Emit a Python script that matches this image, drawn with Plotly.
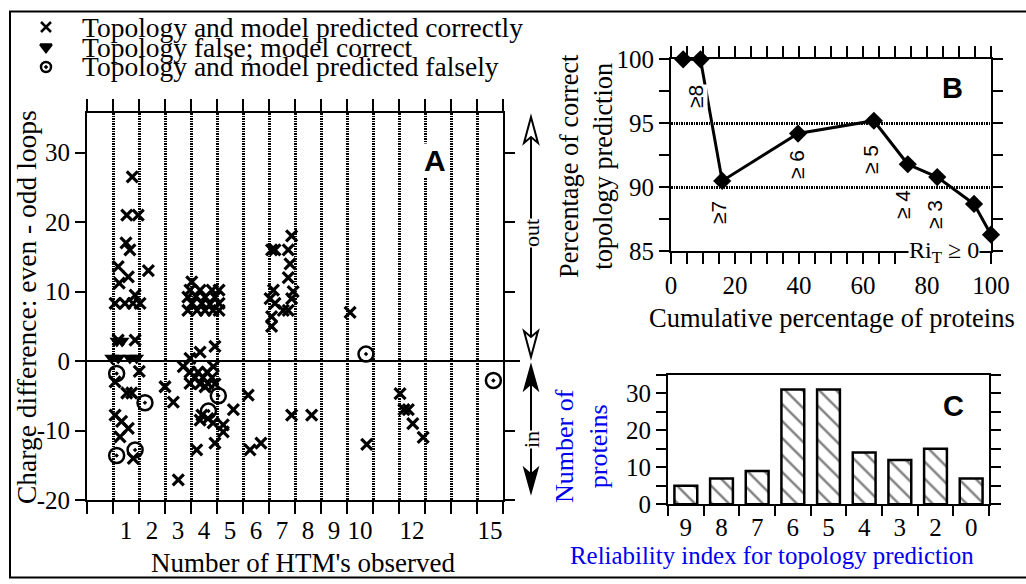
import plotly.graph_objects as go

W, H = 1026, 584
SERIF = "Liberation Serif"
SANS = "Liberation Sans"

# ---------------- data: panel A ----------------
correct_x = [1.24, 1.03, 1.47, 1.00, 1.15, 0.70, 1.86, 1.09, 0.74, 1.35,
             0.58, 0.96, 1.27, 1.54, 0.70, 1.35, 1.51, 0.58, 1.03, 1.22,
             0.58, 0.83, 1.09, 0.77, 1.28,
             2.50, 2.82, 3.01,
             3.53, 3.46, 3.85, 4.31, 4.58, 3.38, 3.69, 4.04, 4.42, 3.54,
             3.92, 4.23, 4.58, 3.38, 3.73, 4.04, 4.35, 4.58,
             4.42, 3.85, 3.46, 3.20, 4.36, 3.46, 3.77, 4.12, 3.65, 3.96,
             4.31, 3.46, 3.85, 4.15, 4.04, 4.42, 5.70, 5.13, 3.92, 4.15,
             4.35, 3.85, 4.74, 4.74, 4.42, 3.72, 5.77, 6.19,
             7.37, 6.60, 6.73, 7.24, 7.31, 7.24, 6.67, 7.43, 6.54, 7.37,
             6.73, 7.05, 7.24, 6.60, 6.60, 7.37, 8.14,
             9.62, 10.26,
             11.54, 11.69, 11.86, 12.03, 12.43]
correct_y = [26.5, 21.0, 21.0, 17.0, 16.0, 13.6, 13.0, 12.1, 11.2, 9.5,
             8.3, 8.3, 8.3, 8.3, 3.0, 3.0, -1.5, -3.0, -4.6, -4.6,
             -7.8, -8.7, -9.7, -10.9, -14.0,
             -3.7, -5.9, -17.1,
             11.4, 10.2, 10.2, 10.2, 10.2, 9.2, 9.3, 9.2, 9.2, 8.3,
             8.3, 8.2, 8.3, 7.3, 7.3, 7.3, 7.3, 7.3,
             2.1, 1.3, 0.4, -0.8, -0.8, -1.6, -1.6, -1.6, -2.4, -2.4,
             -2.4, -3.2, -3.3, -3.2, -3.7, -3.3, -4.9, -7.0, -7.8, -8.3,
             -8.9, -8.5, -9.2, -10.2, -11.8, -12.8, -12.8, -11.8,
             18.0, 16.0, 16.0, 16.0, 14.0, 12.0, 10.2, 10.0, 9.0, 9.0,
             8.3, 7.3, 7.3, 6.4, 5.0, -7.8, -7.8,
             7.0, -12.0,
             -4.7, -7.0, -7.0, -9.0, -11.0]

topo_false_x = [0.45, 0.70, 1.15, 1.41, 0.65, 0.85]
topo_false_y = [0.45, 0.45, 0.45, 0.45, 2.9, 2.9]

both_false_x = [0.64, 1.73, 0.64, 1.35, 4.55, 4.17, 10.23, 15.13]
both_false_y = [-1.8, -6.0, -13.6, -12.8, -5.0, -7.2, 1.0, -2.8]

htm_tick_vals = [1, 2, 3, 4, 5, 6, 7, 8, 9, 10, 12, 15]
htm_bounds = [k - 0.5 for k in range(0, 17)]
charge_ticks = [-20, -10, 0, 10, 20, 30]

series_names = ["Topology and model predicted correctly",
                "Topology false; model correct",
                "Topology and model predicted falsely"]

# ---------------- data: panel B ----------------
cum_pct = [3.8, 9.2, 16.0, 39.7, 63.4, 74.0, 83.2, 94.7, 100.0]
pct_correct = [100.0, 100.0, 90.5, 94.2, 95.2, 91.8, 90.8, 88.7, 86.3]
ri_thresholds = ["≥8", "≥7", "≥ 6", "≥ 5", "≥ 4", "≥ 3"]

# ---------------- data: panel C ----------------
ri_labels = ["9", "8", "7", "6", "5", "4", "3", "2", "0"]
n_proteins = [5, 7, 9, 31, 31, 14, 12, 15, 7]


def X(p):
    return p / W


def Y(p):
    return 1 - p / H


def path(points, close=True):
    s = "M " + " L ".join(f"{X(a):.5f},{Y(b):.5f}" for a, b in points)
    return s + (" Z" if close else "")


DOT = "1.5px,1px"
fig = go.Figure()

# Panel A traces
fig.add_trace(go.Scatter(x=correct_x, y=correct_y, mode="markers", xaxis="x", yaxis="y",
                         name=series_names[0], showlegend=False, cliponaxis=False,
                         marker=dict(symbol="x-thin-open", size=11, color="black",
                                     line=dict(color="black", width=3.2))))
fig.add_trace(go.Scatter(x=topo_false_x, y=topo_false_y, mode="markers", xaxis="x", yaxis="y",
                         name=series_names[1], showlegend=False, cliponaxis=False,
                         marker=dict(symbol="triangle-down", size=13, color="black")))
fig.add_trace(go.Scatter(x=both_false_x, y=both_false_y, mode="markers", xaxis="x", yaxis="y",
                         name=series_names[2], showlegend=False, cliponaxis=False,
                         marker=dict(symbol="circle-open-dot", size=15, color="black",
                                     line=dict(color="black", width=2.5))))

# Panel B trace
fig.add_trace(go.Scatter(x=cum_pct, y=pct_correct, mode="lines+markers", xaxis="x2", yaxis="y2",
                         showlegend=False, cliponaxis=False,
                         line=dict(color="black", width=3),
                         marker=dict(symbol="diamond", size=14, color="black")))

# Panel C trace
fig.add_trace(go.Bar(x=ri_labels, y=n_proteins, xaxis="x3", yaxis="y3", width=0.64,
                     showlegend=False,
                     marker=dict(color="white", line=dict(color="black", width=2.5),
                                 pattern=dict(shape="\\", fgcolor="black", bgcolor="white",
                                              size=12, solidity=0.2))))

# legend glyphs on a full-page overlay axis
legend_symbols = ["x-thin-open", "triangle-down", "circle-open-dot"]
legend_rows_y = [27, 47, 67]
for sym, ry in zip(legend_symbols, legend_rows_y):
    fig.add_trace(go.Scatter(x=[46], y=[ry], mode="markers", xaxis="x4", yaxis="y4",
                             showlegend=False, cliponaxis=False,
                             marker=dict(symbol=sym, size=10, color="black",
                                         line=dict(color="black", width=2.5))))


def axis(**kw):
    base = dict(showline=True, linecolor="black", linewidth=2, zeroline=False,
                tickcolor="black", tickwidth=2, ticks="outside", automargin=False,
                tickfont=dict(family=SERIF, size=25, color="black"))
    base.update(kw)
    return base


layout = dict(
    width=W, height=H, margin=dict(l=0, r=0, t=0, b=0, pad=0, autoexpand=False),
    paper_bgcolor="white", plot_bgcolor="rgba(0,0,0,0)",
    font=dict(family=SERIF, size=25, color="black"),
    showlegend=False,
    # ---- panel A ----
    xaxis=axis(domain=[X(87), X(503)], range=[-0.5, 15.5], anchor="y",
               tickmode="array", tickvals=htm_tick_vals, ticktext=[str(v) for v in htm_tick_vals],
               ticklen=7, tickcolor="rgba(0,0,0,0)", showgrid=False, mirror="ticks",
               minor=dict(tickmode="array", tickvals=htm_bounds, ticks="outside", ticklen=12,
                          tickwidth=2, tickcolor="black", showgrid=True, gridcolor="black",
                          gridwidth=3, griddash=DOT)),
    yaxis=axis(domain=[Y(500), Y(113)], range=[-20, 35.7], anchor="x",
               tickmode="array", tickvals=charge_ticks, ticktext=[str(v) for v in charge_ticks],
               ticklen=10, showgrid=False, mirror="ticks"),
    # ---- panel B ----
    xaxis2=axis(domain=[X(671), X(991)], range=[0, 100], anchor="y2",
                tickmode="linear", tick0=0, dtick=20, ticklen=11, showgrid=False, mirror="ticks",
                minor=dict(dtick=5, ticks="outside", ticklen=11, tickwidth=2, tickcolor="black")),
    yaxis2=axis(domain=[Y(251.3), Y(59.3)], range=[85, 100], anchor="x2",
                tickmode="linear", tick0=85, dtick=5, ticklen=10, mirror="ticks",
                showgrid=True, gridcolor="black", gridwidth=3, griddash=DOT,
                minor=dict(dtick=2.5, ticks="outside", ticklen=10, tickwidth=2, tickcolor="black")),
    # ---- panel C ----
    xaxis3=axis(domain=[X(668), X(989)], anchor="y3", type="category",
                categoryorder="array", categoryarray=ri_labels, tickson="boundaries",
                ticklen=10, showgrid=False, mirror=True),
    yaxis3=axis(domain=[Y(504.3), Y(374.8)], range=[0, 35], anchor="x3",
                tickmode="linear", tick0=0, dtick=10, ticklen=10, showgrid=False, mirror="ticks",
                minor=dict(dtick=5, ticks="outside", ticklen=10, tickwidth=2, tickcolor="black")),
    # ---- overlay for legend glyphs ----
    xaxis4=dict(domain=[0, 1], range=[0, W], anchor="y4", visible=False, fixedrange=True,
                automargin=False),
    yaxis4=dict(domain=[0, 1], range=[H, 0], anchor="x4", visible=False, fixedrange=True,
                automargin=False),
)
fig.update_layout(**layout)

ann = []


def text(x, y, s, size=25, family=SERIF, color="black", angle=0, xanchor="center",
         bg=None, bold=False):
    d = dict(x=X(x), y=Y(y), xref="paper", yref="paper", text=f"<b>{s}</b>" if bold else s,
             showarrow=False, xanchor=xanchor, yanchor="middle", textangle=angle,
             font=dict(family=family, size=size, color=color))
    if bg:
        d.update(bgcolor=bg, borderpad=0)
    ann.append(d)


# legend text
for name, ry in zip(series_names, legend_rows_y):
    text(80, ry, name, size=27.5, xanchor="left")

# panel A titles
text(26, 307, "Charge difference: even - odd loops", size=27.5, angle=-90)
text(303, 563, "Number of HTM's observed", size=27)
text(435, 161, "A", size=30, family=SANS, bold=True, bg="white")
text(531, 233, "out", size=22, angle=-90, bg="white")
text(531, 440, "in", size=22, angle=-90, bg="white")

# panel B titles and labels
text(586, 166, "Percentage of correct<br>topology prediction", size=26.3, angle=-90)
text(832, 318, "Cumulative percentage of proteins", size=26.5)
text(952, 88, "B", size=29, family=SANS, bold=True)
b_label_pos = [(696, 97), (718, 213), (797, 165), (870, 160), (902, 205), (935, 215)]
for lab, (lx, ly) in zip(ri_thresholds, b_label_pos):
    text(lx, ly, lab, size=21, family=SANS, angle=-90, bg="white")
text(944, 252, "Ri<sub>T</sub> ≥ 0", size=24, bg="white")

# panel C titles
text(581, 446, "Number of<br>proteins", size=26, angle=-90, color="#0000ee")
text(772, 555, "Reliability index for topology prediction", size=24.9, color="#0000ee")
text(953, 406, "C", size=29, family=SANS, bold=True)

fig.update_layout(annotations=ann)

shapes = []
# zero line in panel A (extends beyond the right axis)
shapes.append(dict(type="line", xref="x domain", yref="y", x0=0, x1=(520 - 87) / 416, y0=0, y1=0,
                   line=dict(color="black", width=2)))
# out / in double arrows
shapes.append(dict(type="line", xref="paper", yref="paper", x0=X(531), x1=X(531), y0=Y(137), y1=Y(338),
                   line=dict(color="black", width=2)))
shapes.append(dict(type="path", xref="paper", yref="paper",
                   path=path([(531, 117), (524, 143), (531, 137), (538, 143)]),
                   line=dict(color="black", width=2), fillcolor="white"))
shapes.append(dict(type="path", xref="paper", yref="paper",
                   path=path([(531, 357), (524, 331), (531, 337), (538, 331)]),
                   line=dict(color="black", width=2), fillcolor="white"))
shapes.append(dict(type="line", xref="paper", yref="paper", x0=X(531), x1=X(531), y0=Y(383), y1=Y(475),
                   line=dict(color="black", width=2)))
shapes.append(dict(type="path", xref="paper", yref="paper",
                   path=path([(531, 365), (524, 390), (531, 384), (538, 390)]),
                   line=dict(color="black", width=1.5), fillcolor="black"))
shapes.append(dict(type="path", xref="paper", yref="paper",
                   path=path([(531, 493), (524, 468), (531, 474), (538, 468)]),
                   line=dict(color="black", width=1.5), fillcolor="black"))
# outer frame
shapes.append(dict(type="rect", xref="paper", yref="paper", x0=X(10), x1=X(1040), y0=Y(577.5), y1=Y(11.5),
                   line=dict(color="black", width=2), layer="below"))
fig.update_layout(shapes=shapes)

fig.write_html("out.html", config={"displayModeBar": False},
               post_script="document.body.style.margin='0px';document.body.style.padding='0px';")
